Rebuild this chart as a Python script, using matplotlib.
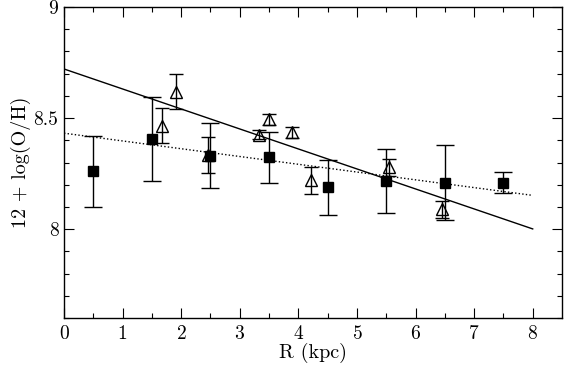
import numpy as np
import matplotlib.pyplot as plt

# Data
# filled squares (binned)
r_sq = [0.5, 1.5, 2.5, 3.5, 4.5, 5.5, 6.5, 7.5]
oh_sq = [8.26, 8.405, 8.33, 8.323, 8.188, 8.216, 8.209, 8.209]
err_sq = [0.16, 0.19, 0.147, 0.115, 0.125, 0.145, 0.17, 0.048]

# open triangles
r_tri = [1.67, 1.91, 2.45, 3.32, 3.50, 3.885, 4.215, 5.55, 6.455]
oh_tri = [8.466, 8.619, 8.333, 8.426, 8.495, 8.436, 8.22, 8.278, 8.089]
err_tri = [0.08, 0.08, 0.081, 0.02, 0.025, 0.025, 0.06, 0.04, 0.038]

# linear fits (intercept, slope)
fit_solid = [8.721, -0.09]
fit_dotted = [8.432, -0.035]
fit_range = [0, 8]

plt.rcParams['font.family'] = 'serif'
plt.rcParams['font.serif'] = ['cmr10', 'DejaVu Serif']
plt.rcParams['axes.formatter.use_mathtext'] = True
plt.rcParams['mathtext.fontset'] = 'cm'

fig = plt.figure(figsize=(5.64, 3.67), dpi=100)
ax = fig.add_axes([64 / 564, 1 - 318 / 367, 498 / 564, 311 / 367])

xf = np.array(fit_range)
ax.plot(xf, fit_solid[0] + fit_solid[1] * xf, color='black', lw=1.0)
ax.plot(xf, fit_dotted[0] + fit_dotted[1] * xf, color='black', lw=1.0,
        linestyle=(0, (1, 1.6)))

ax.errorbar(r_sq, oh_sq, yerr=err_sq, fmt='s', color='black', ms=7.2,
            mfc='black', mec='black', ecolor='black', elinewidth=1.0,
            capsize=6.8, capthick=1.0, zorder=3)
ax.errorbar(r_tri, oh_tri, yerr=err_tri, fmt='^', color='black', ms=8,
            mfc='none', mec='black', mew=1.0, ecolor='black', elinewidth=1.0,
            capsize=5.2, capthick=1.0, zorder=3)

ax.set_xlim(0, 8.5)
ax.set_ylim(7.6, 9)
ax.set_xticks(np.arange(0, 9, 1))
ax.set_xticks(np.arange(0.5, 8.5, 1), minor=True)
ax.set_yticks([8, 8.5, 9])
ax.set_yticklabels(['8', '8.5', '9'])
ax.set_yticks(np.arange(7.6, 9.0, 0.1), minor=True)
ax.tick_params(which='both', direction='in', top=True, right=True,
               labelsize=14, width=0.8)
ax.tick_params(which='major', length=7)
ax.tick_params(which='minor', length=3.5)
ax.tick_params(axis='x', which='major', pad=5)
ax.tick_params(axis='y', which='major', pad=4)
for s in ax.spines.values():
    s.set_linewidth(1.0)

ax.set_xlabel('R (kpc)', fontsize=14.5, labelpad=0)
ax.set_ylabel('12 + log(O/H)', fontsize=14.5, labelpad=2)

fig.savefig('out.png', dpi=100)
